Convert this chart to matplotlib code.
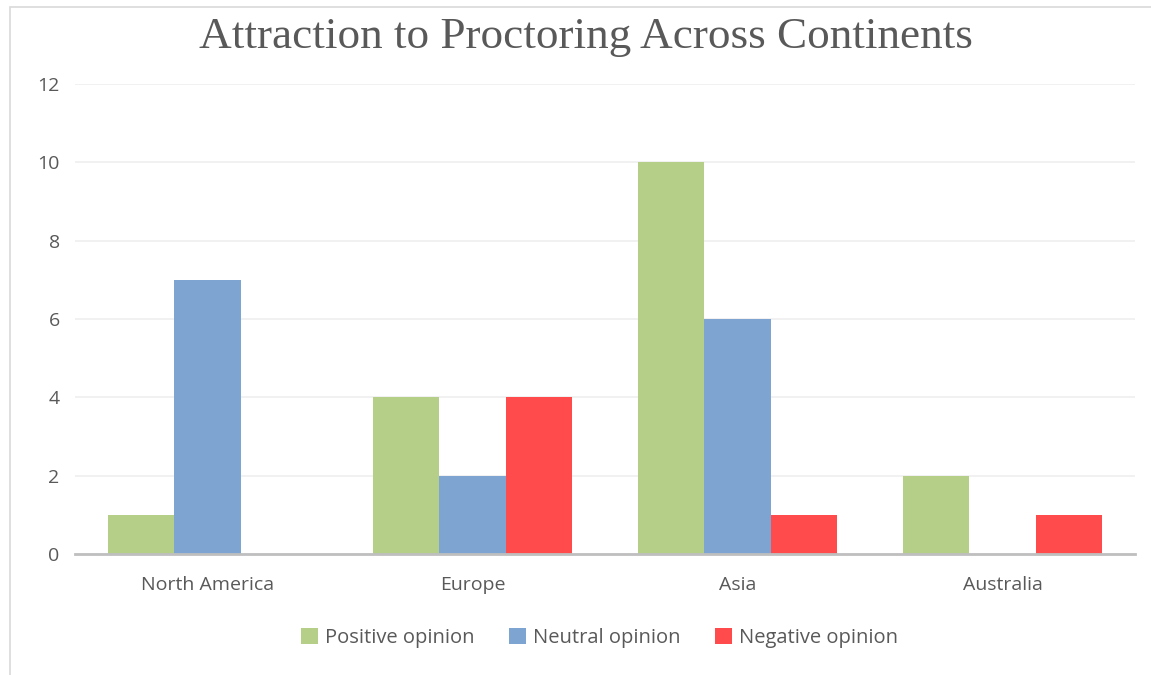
import numpy as np
import matplotlib.pyplot as plt
from matplotlib.patches import Rectangle, Patch

continents = ['North America', 'Europe', 'Asia', 'Australia']
positive = [1, 4, 10, 2]
neutral = [7, 2, 6, 0]
negative = [0, 4, 1, 1]

series = [
    ('Positive opinion', positive, '#B5CF89'),
    ('Neutral opinion', neutral, '#7EA5D1'),
    ('Negative opinion', negative, '#FF4B4B'),
]

plt.rcParams['font.family'] = ['Open Sans', 'DejaVu Sans']
txt = '#595959'

fig = plt.figure(figsize=(11.51, 6.75), dpi=100)
fig.patches.append(Rectangle((10 / 1151, -0.01), 1.02, 1 - 7 / 675 + 0.01,
                             transform=fig.transFigure, fill=False,
                             edgecolor='#D9D9D9', linewidth=1.2))

ax = fig.add_axes([75 / 1151, 1 - 554 / 675, 1060 / 1151, 470 / 675])

x = np.arange(len(continents))
w = 0.25
for i, (name, vals, col) in enumerate(series):
    ax.bar(x + (i - 1) * w, vals, w, color=col, label=name, zorder=3)

ax.set_xlim(-0.5, len(continents) - 0.5)
ax.set_ylim(0, 12)
ax.set_yticks(range(0, 13, 2))
ax.set_xticks(x)
ax.set_xticklabels(continents)
ax.grid(axis='y', color='#EFEFEF', linewidth=1.2, zorder=0)
for s in ['top', 'right', 'left']:
    ax.spines[s].set_visible(False)
ax.spines['bottom'].set_color('#BFBFBF')
ax.spines['bottom'].set_linewidth(2)
ax.spines['bottom'].set_zorder(4)
ax.tick_params(axis='both', length=0, colors=txt, labelsize=14)
ax.tick_params(axis='y', pad=11)
ax.tick_params(axis='x', pad=16)

fig.text(0.509, 1 - 37 / 675, 'Attraction to Proctoring Across Continents',
         ha='center', va='center', fontsize=32.5, color=txt,
         family=['Liberation Serif', 'DejaVu Serif'])

handles = [Patch(facecolor=c, label=n) for n, _, c in series]
fig.legend(handles=handles, loc='center', bbox_to_anchor=(0.521, 1 - 638 / 675),
           ncol=3, frameon=False, fontsize=14.5, labelcolor=txt,
           handlelength=0.85, handleheight=0.85, handletextpad=0.35,
           columnspacing=1.7)

fig.savefig('out.png', dpi=100)
